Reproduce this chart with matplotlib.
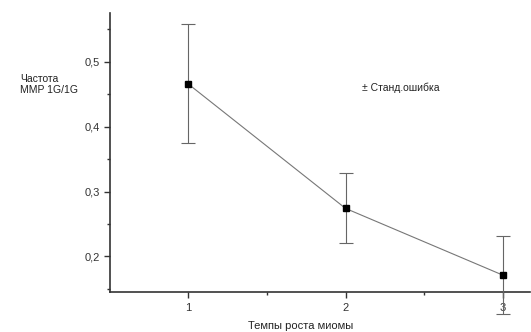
import matplotlib.pyplot as plt
from matplotlib.ticker import MultipleLocator, FuncFormatter

# Данные
rates = [1, 2, 3]
freq = [0.466, 0.274, 0.171]
stderr = [0.092, 0.054, 0.060]

plt.rcParams['font.family'] = ['Liberation Sans', 'DejaVu Sans']

fig = plt.figure(figsize=(5.31, 3.32), dpi=100)
ax = fig.add_axes([0.207, 0.120, 0.791, 0.841])

ax.plot(rates, freq, color='#777777', linewidth=0.8, zorder=2)
ax.errorbar(rates, freq, yerr=stderr, fmt='none', ecolor='#666666',
            elinewidth=0.8, capsize=5, capthick=0.8, zorder=3, clip_on=False)
ax.plot(rates, freq, 's', color='black', markersize=4, zorder=4, clip_on=False)

ax.set_xlim(0.505, 3.17)
ax.set_ylim(0.145, 0.575)
ax.xaxis.set_major_locator(MultipleLocator(1))
ax.xaxis.set_minor_locator(MultipleLocator(0.5))
ax.yaxis.set_major_locator(MultipleLocator(0.1))
ax.yaxis.set_minor_locator(MultipleLocator(0.05))
ax.yaxis.set_major_formatter(FuncFormatter(lambda v, p: f'{v:.1f}'.replace('.', ',')))

for s in ['top', 'right']:
    ax.spines[s].set_visible(False)
for s in ['left', 'bottom']:
    ax.spines[s].set_color('#333333')
    ax.spines[s].set_linewidth(1.2)
ax.tick_params(which='major', length=4, width=1, colors='#333333', labelsize=8)
ax.tick_params(which='minor', length=2.5, width=1, colors='#333333')

fig.text(0.038, 0.745, 'Частота\nMMP 1G/1G', fontsize=7.5, ha='left', va='center',
         color='#222222', linespacing=1.2)
fig.text(0.682, 0.735, '± Станд.ошибка', fontsize=7.5, ha='left', va='center',
         color='#222222')
fig.text(0.567, 0.018, 'Темпы роста миомы', fontsize=8, ha='center', va='center',
         color='#222222')

fig.savefig('out.png', dpi=100)
